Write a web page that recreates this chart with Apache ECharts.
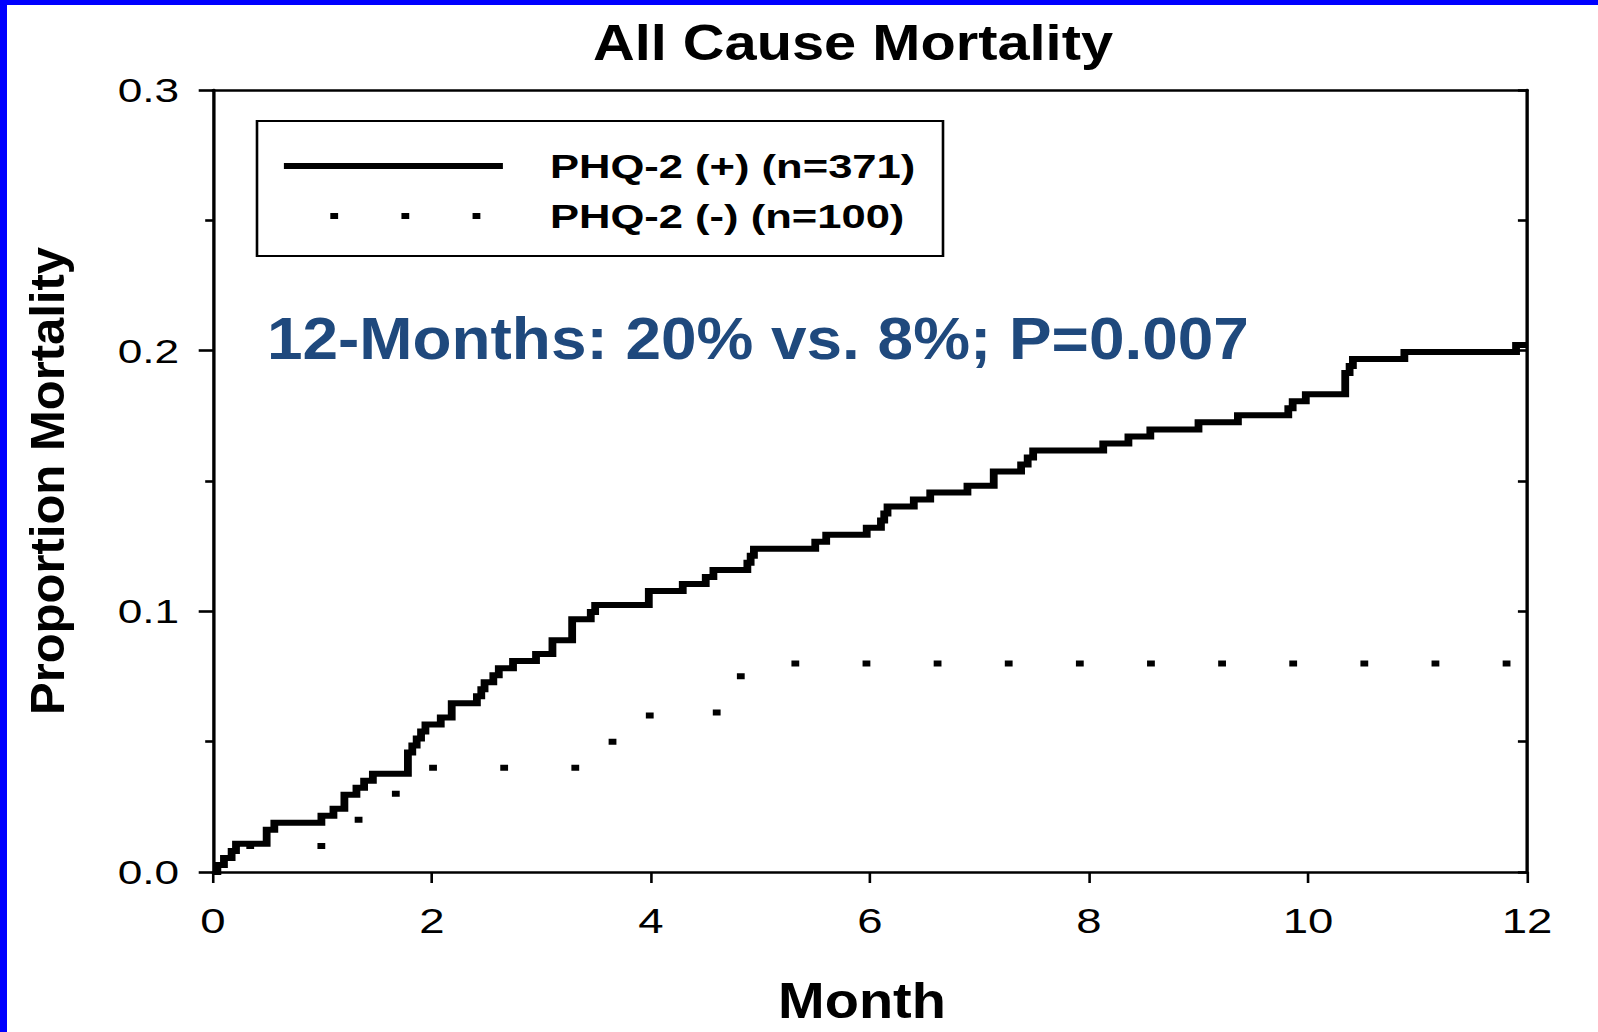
<!DOCTYPE html>
<html>
<head>
<meta charset="utf-8">
<title>All Cause Mortality</title>
<script src="https://cdn.jsdelivr.net/npm/echarts@6/dist/echarts.min.js"></script>
<style>
  html, body { margin: 0; padding: 0; background: #fff; overflow: hidden; }
  #frame { position: relative; width: 1598px; height: 1032px; overflow: hidden; background: #fff; }
  /* the plot is laid out 1229px wide and widened to the full page width */
  #chart { position: absolute; left: 0; top: 0; width: 1229px; height: 1032px;
           transform-origin: 0 0; transform: scaleX(1.300244); }
  .edge { position: absolute; background: #0000ff; z-index: 2; }
</style>
</head>
<body>
<div id="frame">
  <div id="chart"></div>
  <div class="edge" style="left:0;top:0;width:1598px;height:5px"></div>
  <div class="edge" style="left:0;top:0;width:7px;height:1032px"></div>
</div>
<script>
// Kaplan-Meier cumulative mortality, PHQ-2 positive group (month, proportion)
const monthsPos = [0, 0.04, 0.10, 0.17, 0.21, 0.49, 0.56, 0.99, 1.10, 1.20, 1.31, 1.38, 1.46,
  1.78, 1.82, 1.86, 1.90, 1.94, 2.08, 2.18, 2.41, 2.45, 2.48, 2.56, 2.61, 2.74, 2.95, 3.10,
  3.28, 3.45, 3.49, 3.98, 4.29, 4.50, 4.57, 4.88, 4.91, 4.94, 5.50, 5.60, 5.97, 6.10, 6.13,
  6.16, 6.40, 6.55, 6.89, 7.13, 7.38, 7.44, 7.49, 8.13, 8.36, 8.56, 9.00, 9.36, 9.82, 9.86,
  9.98, 10.34, 10.38, 10.41, 10.88, 11.90, 12.00];
const mortalityPos = [0, 0.0027, 0.0054, 0.0081, 0.0108, 0.0162, 0.0189, 0.0216, 0.0243,
  0.0296, 0.0323, 0.0350, 0.0377, 0.0458, 0.0485, 0.0512, 0.0539, 0.0566, 0.0593, 0.0647,
  0.0674, 0.0701, 0.0728, 0.0755, 0.0782, 0.0809, 0.0836, 0.0889, 0.0970, 0.0997, 0.1024,
  0.1078, 0.1105, 0.1132, 0.1159, 0.1186, 0.1213, 0.1240, 0.1267, 0.1294, 0.1321, 0.1348,
  0.1375, 0.1402, 0.1429, 0.1456, 0.1482, 0.1536, 0.1563, 0.1590, 0.1617, 0.1644, 0.1671,
  0.1698, 0.1725, 0.1752, 0.1779, 0.1806, 0.1833, 0.1914, 0.1941, 0.1968, 0.1995, 0.2022,
  0.2022];

// PHQ-2 negative group
const monthsNeg = [0, 0.22, 1.15, 1.40, 1.80, 3.52, 3.70, 4.60, 4.82, 12.00];
const mortalityNeg = [0, 0.01, 0.02, 0.03, 0.04, 0.05, 0.06, 0.07, 0.08, 0.08];

const seriesNames = ['PHQ-2 (+) (n=371)', 'PHQ-2 (-) (n=100)'];
const chartTitle = 'All Cause Mortality';
const xAxisTitle = 'Month';
const yAxisTitle = 'Proportion Mortality';
const noteText = '12-Months: 20% vs. 8%; P=0.007';

const SX = 1598 / 1229;                 // horizontal widening of the chart box
const FONT = '"Liberation Sans", Arial, Helvetica, sans-serif';
const AXIS = { color: '#000', width: 2.6 };
const DOTS = [6, 48.7];                 // dotted pattern for the PHQ-2 (-) curve

const pairs = (xs, ys) => xs.map((x, i) => [x, ys[i]]);

const chart = echarts.init(document.getElementById('chart'), null, { renderer: 'svg' });

chart.setOption({
  animation: false,
  backgroundColor: '#fff',
  grid: { left: 213 / SX, right: 1229 - 1527 / SX, top: 90, bottom: 160 },
  xAxis: [
    {
      type: 'value', min: 0, max: 12, interval: 2, position: 'bottom',
      axisLine: { show: true, onZero: false, lineStyle: AXIS },
      axisTick: { show: true, length: 11, lineStyle: { color: '#000', width: 2 } },
      axisLabel: { margin: 31, fontFamily: FONT, fontSize: 35, color: '#000' },
      splitLine: { show: false }
    },
    {
      type: 'value', min: 0, max: 12, position: 'top',
      axisLine: { show: true, onZero: false, lineStyle: AXIS },
      axisTick: { show: false }, axisLabel: { show: false }, splitLine: { show: false }
    }
  ],
  yAxis: [
    {
      type: 'value', min: 0, max: 0.3, interval: 0.1, position: 'left',
      axisLine: { show: true, onZero: false, lineStyle: AXIS },
      axisTick: { show: true, length: 11, lineStyle: AXIS },
      minorTick: { show: true, splitNumber: 2, length: 6, lineStyle: AXIS },
      axisLabel: { margin: 26, fontFamily: FONT, fontSize: 34, color: '#000',
                   formatter: v => v.toFixed(1) },
      splitLine: { show: false }, minorSplitLine: { show: false }
    },
    {
      type: 'value', min: 0, max: 0.3, interval: 0.05, position: 'right',
      axisLine: { show: true, onZero: false, lineStyle: AXIS },
      axisTick: { show: true, inside: true, length: 7, lineStyle: AXIS },
      axisLabel: { show: false }, splitLine: { show: false }
    }
  ],
  legend: {
    orient: 'vertical', left: 280 / SX, top: 149, padding: 0,
    itemWidth: (499 - 280) / SX, itemHeight: 34, itemGap: 16,
    selectedMode: false,
    itemStyle: { color: 'transparent', borderWidth: 0, opacity: 0 },
    lineStyle: { color: '#000', width: 6, cap: 'butt' },
    textStyle: { fontFamily: FONT, fontSize: 33.5, fontWeight: 'bold', color: '#000',
                 padding: [0, 0, 0, (546 - 499) / SX - 5] },
    data: [
      { name: seriesNames[0], lineStyle: { type: 'solid', width: 6 } },
      { name: seriesNames[1], lineStyle: { type: DOTS, dashOffset: 18.5, width: 6 } }
    ]
  },
  series: [
    {
      name: seriesNames[0], type: 'line', step: 'end', symbol: 'none', clip: false,
      data: pairs(monthsPos, mortalityPos), z: 3, silent: true,
      itemStyle: { color: '#000' },
      lineStyle: { color: '#000', width: 6, cap: 'butt', join: 'miter' }
    },
    {
      name: seriesNames[1], type: 'line', step: 'end', symbol: 'none', clip: false,
      data: pairs(monthsNeg, mortalityNeg), z: 3, silent: true,
      itemStyle: { color: '#000' },
      lineStyle: { color: '#000', width: 6, type: DOTS, dashOffset: 3.3, cap: 'butt', join: 'miter' }
    }
  ],
  graphic: [
    {
      type: 'rect', silent: true,
      shape: { x: 257 / SX, y: 121, width: (943 - 257) / SX, height: 135 },
      style: { fill: 'none', stroke: '#000', lineWidth: 2 }
    },
    {
      type: 'text', silent: true, x: 853 / SX, y: 42, scaleX: 0.889,
      style: { text: chartTitle, fontFamily: FONT, fontSize: 50, fontWeight: 'bold', fill: '#000',
               align: 'center', verticalAlign: 'middle', textAlign: 'center', textVerticalAlign: 'middle' }
    },
    {
      type: 'text', silent: true, x: 862 / SX, y: 1001, scaleX: 0.861,
      style: { text: xAxisTitle, fontFamily: FONT, fontSize: 50, fontWeight: 'bold', fill: '#000',
               align: 'center', verticalAlign: 'middle', textAlign: 'center', textVerticalAlign: 'middle' }
    },
    {
      type: 'text', silent: true, x: 47 / SX, y: 481, rotation: Math.PI / 2, scaleY: 1 / SX,
      style: { text: yAxisTitle, fontFamily: FONT, fontSize: 49, fontWeight: 'bold', fill: '#000',
               align: 'center', verticalAlign: 'middle', textAlign: 'center', textVerticalAlign: 'middle' }
    },
    {
      type: 'text', silent: true, x: 267 / SX, y: 338, scaleX: 0.819,
      style: { text: noteText, fontFamily: FONT, fontSize: 60, fontWeight: 'bold', fill: '#1F497D',
               align: 'left', verticalAlign: 'middle', textAlign: 'left', textVerticalAlign: 'middle' }
    }
  ]
});
</script>
</body>
</html>
